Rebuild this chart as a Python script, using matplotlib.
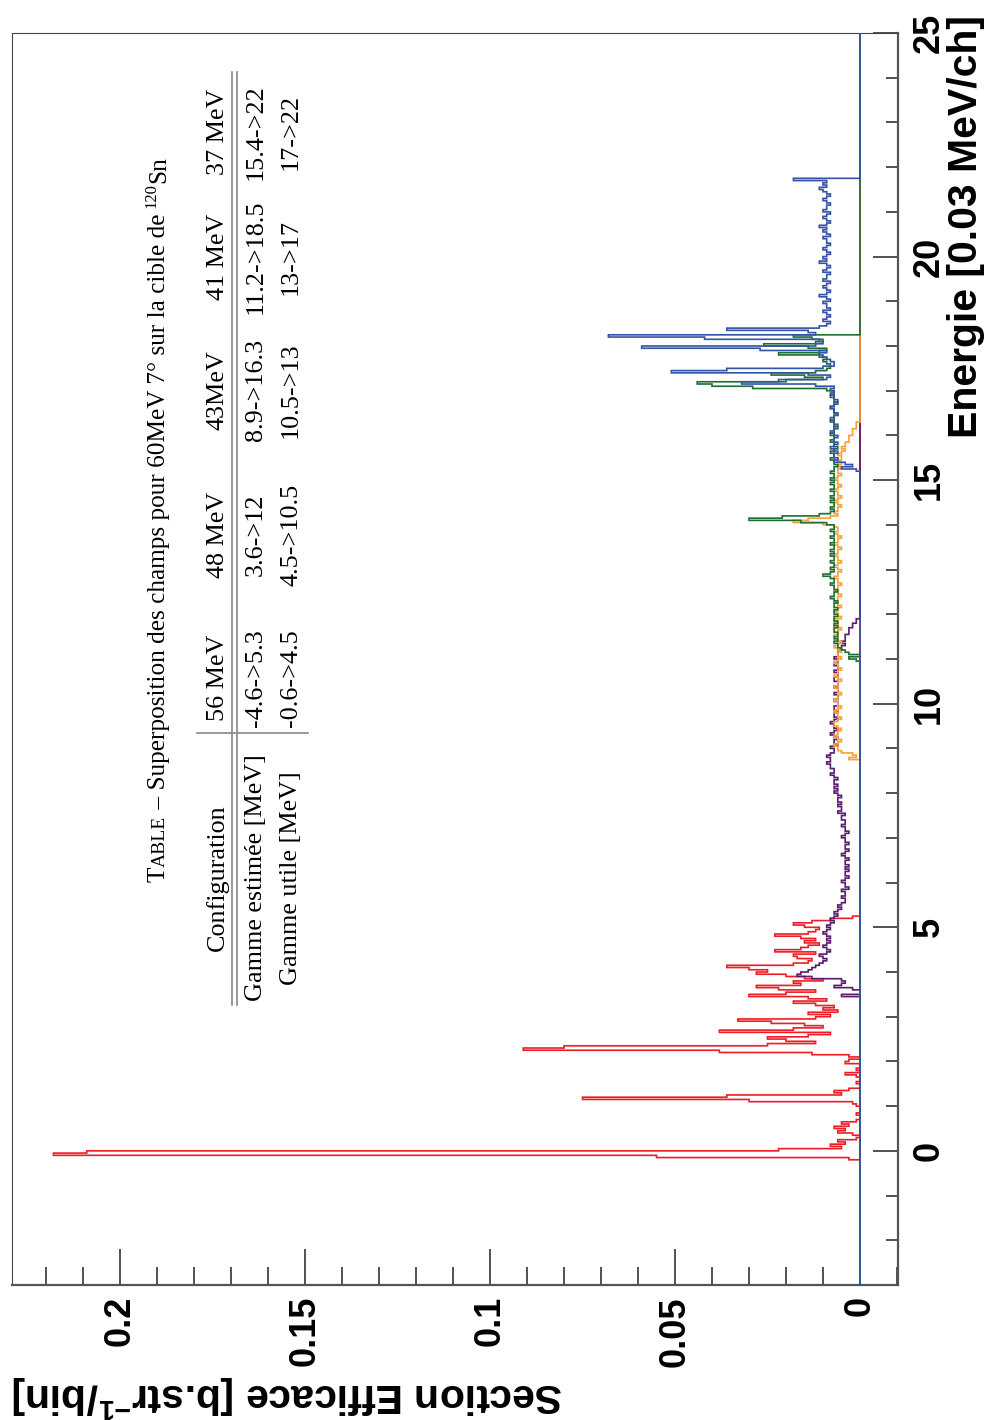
import numpy as np
import matplotlib
matplotlib.use("Agg")
import matplotlib.pyplot as plt
from matplotlib.lines import Line2D

# ---------------- data (values in units of 1e-3 b.str^-1/bin, bins of 0.05 MeV) ----------------
BIN = 0.05
red_start = -0.20
red_vals = [3, 55, 218, 209, 22, 5, 8, 4, 6, 1, 0, 2, 6, 4, 7, 3, 5, 1, 0, 0,
            1, 0, 0, 0, 1, 2, 30, 75, 36, 5, 7, 3, 0, 0, 1, 0, 0, 1, 4, 0,
            1, 0, 0, 4, 3, 0, 3, 13, 38, 91, 80, 25, 12, 20, 25, 14, 8, 38, 18, 10,
            15, 24, 33, 12, 8, 14, 6, 10, 7, 12, 18, 9, 14, 30, 20, 12, 22, 28, 16, 18,
            10, 15, 20, 28, 25, 30, 36, 18, 14, 13, 17, 18, 12, 23, 16, 14, 11, 15, 12, 16,
            23, 14, 12, 11, 15, 18, 13, 8, 2, 0]

purple_start = 3.40
purple_vals = [0, 5, 0, 0, 2, 7, 5, 4, 5, 13, 17, 16, 14, 13, 12, 11, 10, 9, 10, 11,
               9, 8, 9, 10, 9, 8, 9, 8, 9, 10, 9, 8, 9, 8, 7, 8, 7, 6, 7, 6,
               5, 6, 5, 4,
               4, 5, 4, 4, 5, 3, 4, 4, 5, 4, 3, 4, 4, 3,
               4, 3, 4, 4, 3, 4, 5, 4, 3, 4, 4, 3, 4, 4, 5, 4, 3, 4, 4, 5, 4, 4,
               5, 5, 4, 6, 5, 5, 6, 5, 6, 6, 5, 6, 7, 6,
               7, 6, 7, 7, 6, 7, 8, 7, 7,
               8, 8, 9, 8, 8, 9, 8,
               7, 7, 8, 6, 7, 7, 6, 7, 8, 7, 6, 7, 7, 8, 7, 6, 7, 7, 6, 7, 7, 6,
               6, 7, 6, 6, 7, 6, 6, 7, 6, 6, 7, 7, 6, 6, 7, 6, 6, 7, 6, 6, 7, 6, 6, 6,
               5, 5, 4, 5, 4, 4,
               4, 3, 3, 3, 2, 2, 1, 1]

orange_start = 8.70
orange_vals = [0, 3, 1, 2,
               5, 6, 6, 7, 6, 5, 6, 7, 6, 6, 5, 6, 7, 7, 6, 5, 6, 6, 7, 6, 5, 6, 6, 7, 6, 6,
               5, 6, 6, 7, 6, 6, 5, 6, 7, 6, 6, 5, 6, 6, 7, 6, 5, 6, 6, 5,
               6, 7, 6, 5, 6, 6, 7, 6, 6, 5, 7, 6, 6, 7, 5, 6, 6, 7, 6, 5, 6, 7, 6, 6, 5, 6,
               7, 6, 6, 5, 6, 6, 7, 6, 6, 5,
               6, 7, 6, 5, 6, 6, 7, 6, 6, 5, 6, 7, 6, 6, 5, 6, 7, 6, 6,
               7, 10, 18, 14, 8,
               6, 7, 6, 6, 5, 6, 7, 6, 5, 6, 6, 7, 6, 5, 6, 6, 7, 6, 5, 6, 6, 5, 6, 5, 6, 5, 5, 6,
               5, 4, 5, 4, 4, 3, 3, 3, 2, 2, 2, 1, 1, 1]

green_start = 10.95
green_vals = [1, 3, 0, 3, 4,
              5, 6, 6, 7, 6, 7, 6, 6, 7, 7, 6, 7, 6, 7, 7, 6, 7, 7, 6, 7, 7, 6, 7, 8, 7, 7,
              6, 7, 7, 8, 7, 7, 8,
              10, 8,
              7, 8, 7, 7, 8, 7, 7, 8, 7, 8, 7, 7, 8, 7, 7, 8, 7, 7, 8, 7, 7,
              9, 16, 30, 21, 11, 8,
              7, 8, 7, 7, 8, 7, 8, 7, 7, 8, 7, 7, 8, 7, 8, 7, 7, 8, 7, 7, 6, 7, 7, 8, 7, 7,
              8, 7, 6, 7, 7, 8, 7, 7, 8, 7, 7, 6, 7, 7, 8, 7, 7, 6, 7, 7, 8, 7, 6, 7, 7, 7,
              8, 7,
              9, 29, 40, 44, 20, 10, 15, 24, 12, 9, 8, 8, 9, 10, 9, 11, 22, 11, 9, 14, 26, 12,
              10, 13, 18]

blue_start = 15.20
blue_vals = [1, 5, 2, 4,
             7, 6, 7, 7, 6, 7, 8, 7, 6, 7, 7, 6, 7, 8, 7, 7, 6, 7, 7, 8, 7, 6, 7, 7, 8, 7,
             7, 6, 7, 8, 7, 7,
             8, 7, 12, 32, 22, 9, 8, 14, 51, 36, 10, 7, 7, 8, 9, 10, 11, 9, 27, 59, 12, 10,
             11, 42, 68, 12, 14, 36, 11,
             9, 8, 10, 9, 8, 9, 10, 8, 9, 9, 10, 8, 9, 11, 9, 8, 9, 10, 9, 8, 10, 9, 9, 8,
             10, 9, 8, 9, 11, 9, 10, 9, 8, 9, 10, 9, 8, 9, 9, 10, 8, 9, 10, 9, 11, 9, 8, 9,
             10, 9, 8, 10, 9, 9, 8, 9, 10, 9, 8, 9, 10, 11, 9, 10, 9,
             18]

E_MIN, E_MAX = -3.0, 25.0
XS_MIN, XS_MAX = -0.01027, 0.2292

x_major = [0, 0.05, 0.1, 0.15, 0.2]
x_major_labels = ["0", "0.05", "0.1", "0.15", "0.2"]
e_major = [0, 5, 10, 15, 20, 25]

table_caption = " \u2013 Superposition des champs pour 60MeV 7\u00b0 sur la cible de "
table_header = ["Configuration", "56 MeV", "48 MeV", "43MeV", "41 MeV", "37 MeV"]
table_row1 = ["Gamme estim\u00e9e [MeV]", "-4.6->5.3", "3.6->12", "8.9->16.3", "11.2->18.5", "15.4->22"]
table_row2 = ["Gamme utile [MeV]", "-0.6->4.5", "4.5->10.5", "10.5->13", "13->17", "17->22"]

# ---------------- figure ----------------
W, H = 989, 1420
fig = plt.figure(figsize=(W / 100, H / 100), dpi=100)
L, R, T, B = 12, 898, 33, 1285
ax = fig.add_axes([L / W, 1 - B / H, (R - L) / W, (B - T) / H])


def P(x, y):
    return (x / W, 1 - y / H)


n_bins = int(round((E_MAX - E_MIN) / BIN))
edges = E_MIN + BIN * np.arange(n_bins + 1)

series = [(red_start, red_vals, "#ee1c25"),
          (purple_start, purple_vals, "#5b1c70"),
          (orange_start, orange_vals, "#f9a134"),
          (green_start, green_vals, "#1e6e32"),
          (blue_start, blue_vals, "#3453a8")]
for z, (start, vals, col) in enumerate(series):
    full = np.zeros(n_bins)
    i0 = int(round((start - E_MIN) / BIN))
    full[i0:i0 + len(vals)] = np.array(vals) * 1e-3
    ax.stairs(full, edges, orientation="horizontal", baseline=0, fill=False,
              color=col, lw=1.2, zorder=2 + z)

ax.set_ylim(E_MIN, E_MAX)
ax.set_xlim(XS_MAX, XS_MIN)

sans = "Liberation Sans"
serif = "Liberation Serif"

ax.set_xticks(x_major)
ax.set_xticklabels(x_major_labels, rotation=90, fontsize=26, fontweight="bold", family=sans, va="top")
ax.set_xticks(np.arange(-0.01, 0.2250, 0.01), minor=True)
ax.set_yticks(e_major)
ax.set_yticks(np.arange(-3, 26, 1), minor=True)
ax.yaxis.tick_right()
ax.set_yticklabels([str(v) for v in e_major], rotation=90, fontsize=26, fontweight="bold",
                   family=sans, va="center")
ax.tick_params(axis="x", which="major", direction="in", length=26, width=1.1, pad=8, color="#222222")
ax.tick_params(axis="x", which="minor", direction="in", length=13, width=1.1, color="#222222")
ax.tick_params(axis="y", which="major", direction="in", length=18, width=1.1, pad=10, color="#222222")
ax.tick_params(axis="y", which="minor", direction="in", length=9, width=1.1, color="#222222")

for s in ("left", "top"):
    ax.spines[s].set_linewidth(0.8)
    ax.spines[s].set_color("#444444")
for s in ("right", "bottom"):
    ax.spines[s].set_linewidth(1.6)
    ax.spines[s].set_color("#555555")

# axis titles
fig.text(*P(977, 15), "Energie [0.03 MeV/ch]", rotation=90, rotation_mode="anchor",
         ha="right", va="baseline", fontsize=29.5, fontweight="bold", family=sans)
plt.rcParams["mathtext.fontset"] = "custom"
plt.rcParams["mathtext.bf"] = "Liberation Sans:bold"
plt.rcParams["mathtext.rm"] = "Liberation Serif"
fig.text(*P(12, 1383), r"Section Efficace [b.str$\mathbf{^{-1}}$/bin]", rotation=180,
         rotation_mode="anchor", ha="right", va="baseline", fontsize=29.5,
         fontweight="bold", family=sans)

# ---------------- embedded table (rotated) ----------------
fs_tab = 18.8
cap_bx = 165 / W
t1 = fig.text(*P(165, 882), "T", rotation=90, rotation_mode="anchor", ha="left",
              va="baseline", fontsize=18.2, family=serif)


def chain(prev, s, size, dx=0.0):
    return ax.annotate(s, xy=(cap_bx, 1.0), xycoords=(fig.transFigure, prev),
                       xytext=(dx, 0), textcoords="offset points", rotation=90,
                       rotation_mode="anchor", ha="left", va="baseline",
                       fontsize=size, family=serif, annotation_clip=False)


t2 = chain(t1, "ABLE", 14)
t3 = chain(t2, table_caption, 18.2)
t4 = chain(t3, "120", 12, dx=-6.5)
t5 = chain(t4, "Sn", 18.2)

row_bx = [224, 262, 297]
col_cy = [878, 678, 535, 390, 257, 132]
for bx, row in zip(row_bx, [table_header, table_row1, table_row2]):
    for cy, s in zip(col_cy, row):
        fig.text(*P(bx, cy), s, rotation=90, rotation_mode="anchor", ha="center",
                 va="baseline", fontsize=fs_tab, family=serif)

for xl in (232, 237):
    fig.add_artist(Line2D([xl / W, xl / W], [1 - 72 / H, 1 - 1005 / H], color="#888888", lw=1.2))
fig.add_artist(Line2D([197 / W, 308 / W], [1 - 733 / H, 1 - 733 / H], color="#888888", lw=1.2))

fig.savefig("out.png", dpi=100)
